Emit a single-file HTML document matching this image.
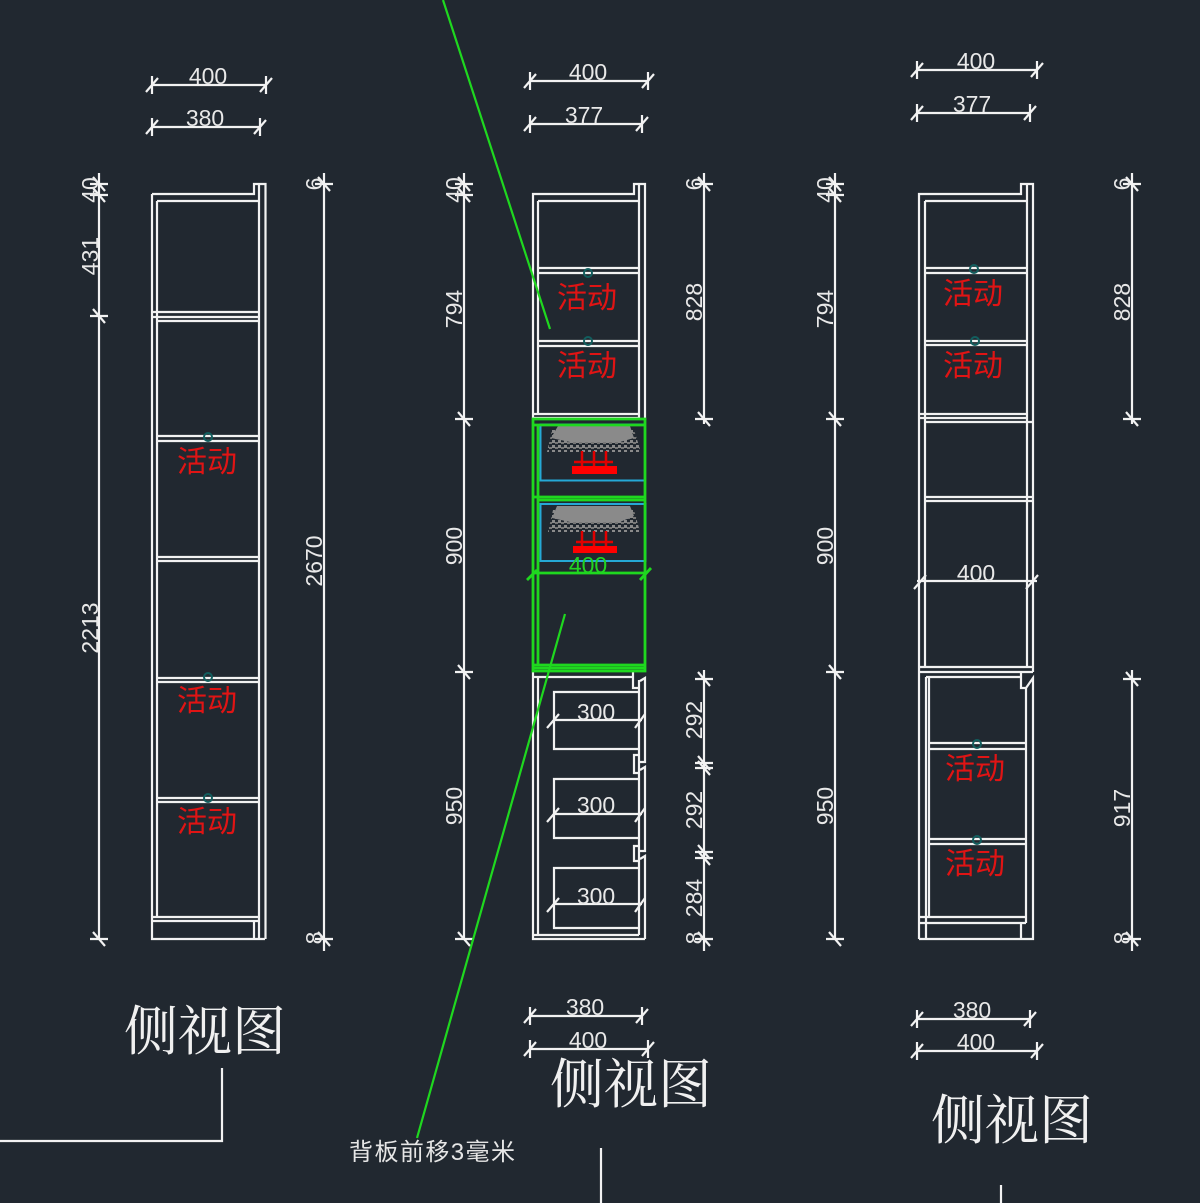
<!DOCTYPE html>
<html><head><meta charset="utf-8"><style>
html,body{margin:0;padding:0;background:#212830}
svg{display:block}
.l{fill:none;stroke:#f2f2f2;stroke-width:2.2}
.g{fill:none;stroke:#1fd81f;stroke-width:2.8}
.t{font-family:"Liberation Sans",sans-serif;font-size:23px;fill:#e8e8e8;text-anchor:middle;font-weight:normal}
.r{font-family:"Liberation Sans","Noto Sans CJK SC",sans-serif;font-size:30px;fill:#e01414;text-anchor:middle}
.b{font-family:"Liberation Serif","Noto Serif CJK SC",serif;font-size:54px;fill:#f0f0f0;text-anchor:middle}
.c{fill:none;stroke:#125e5e;stroke-width:2}
</style></head><body>
<svg width="1200" height="1203" viewBox="0 0 1200 1203" xmlns="http://www.w3.org/2000/svg">
<defs>
<path id="h" class="l" d="M0-9V9M-6 7L6-7"/>
<path id="v" class="l" d="M-9 0H9M-6-7L6 7"/>
<pattern id="sp" width="6" height="5" patternUnits="userSpaceOnUse"><rect width="6" height="5" fill="#212830"/><rect x="0" y="0" width="3" height="3" fill="#8a8a8a"/><rect x="3" y="2" width="3" height="2" fill="#777"/></pattern>
</defs>
<rect width="1200" height="1203" fill="#212830"/>

<!-- COLUMN 1 -->
<path class="l" d="M152 85H266M152 127H260"/>
<use href="#h" x="152" y="85"/><use href="#h" x="266" y="85"/><use href="#h" x="152" y="127"/><use href="#h" x="260" y="127"/>
<text class="t" x="208" y="84">400</text><text class="t" x="205" y="126">380</text>
<path class="l" d="M152 194H254V184H259V194M259 184H265.500V939M259 184V939M152 194V939H265M157 201V917M157 201H259"/>
<path class="l" d="M152 312H259M152 317H259M157 321H259M157 436H259M157 441H259M157 557H259M157 561H259M157 678H259M157 682H259M157 798H259M157 802H259M152 917H259M152 921H259M254 921V939"/>
<circle class="c" cx="208" cy="437" r="4"/><circle class="c" cx="208" cy="677" r="4"/><circle class="c" cx="208" cy="798" r="4"/>
<text class="r" x="207" y="472">活动</text><text class="r" x="207" y="711">活动</text><text class="r" x="207" y="832">活动</text>
<path class="l" d="M99 173V939M324 173V951"/>
<use href="#v" x="99" y="184"/><use href="#v" x="99" y="195"/><use href="#v" x="99" y="316"/><use href="#v" x="99" y="939"/>
<use href="#v" x="324" y="184"/><use href="#v" x="324" y="939"/>
<text class="t" transform="translate(98 190) rotate(-90)">40</text>
<text class="t" transform="translate(98 256) rotate(-90)">431</text>
<text class="t" transform="translate(98 628) rotate(-90)">2213</text>
<text class="t" transform="translate(322 561) rotate(-90)">2670</text>
<text class="t" transform="translate(322 184) rotate(-90)">6</text>
<text class="t" transform="translate(322 938) rotate(-90)">8</text>
<text class="b" x="205" y="1050">侧视图</text>
<path class="l" d="M0 1141H222V1068"/>

<!-- COLUMN 2 -->
<path class="l" d="M530 81H648M530 124H642"/>
<use href="#h" x="530" y="81"/><use href="#h" x="648" y="81"/><use href="#h" x="530" y="124"/><use href="#h" x="642" y="124"/>
<text class="t" x="588" y="80">400</text><text class="t" x="584" y="123">377</text>
<path class="l" d="M533 419V194H634V184H639V194M639 184H645V420M639 194V420M538 201V415M538 201H639"/>
<path class="l" d="M538 268H639M538 273H639M538 341H639M538 346H639M533 414H639M533 418H639"/>
<circle class="c" cx="588" cy="273" r="4"/><circle class="c" cx="588" cy="341" r="4"/>
<text class="r" x="587" y="308">活动</text><text class="r" x="587" y="376">活动</text>
<path class="l" d="M533 672V939H645M538 676V935M533 935H639M533 677H633M633 670V688H639M639 680V935M640 681L645 678V762H640M640 770L645 767V851H640M640 859L645 856V939M639 755H634V773H639M639 846H634V861H639"/>
<path class="l" d="M639 692H554V749H639M639 779H554V838H639M639 868H554V928H639"/>
<path class="l" d="M553 720H642M553 814H642M553 904H642M547 728L559 714M635 728L645 714M547 822L559 808M635 822L645 808M547 912L559 898M635 912L645 898"/>
<text class="t" x="596" y="720">300</text><text class="t" x="596" y="813">300</text><text class="t" x="596" y="904">300</text>
<path class="l" d="M464 173V939M704 173V424M704 670V951"/>
<use href="#v" x="464" y="184"/><use href="#v" x="464" y="195"/><use href="#v" x="464" y="419"/><use href="#v" x="464" y="672"/><use href="#v" x="464" y="939"/>
<use href="#v" x="704" y="184"/><use href="#v" x="704" y="419"/><use href="#v" x="704" y="679"/><use href="#v" x="704" y="763"/><use href="#v" x="704" y="768"/><use href="#v" x="704" y="852"/><use href="#v" x="704" y="858"/><use href="#v" x="704" y="939"/>
<text class="t" transform="translate(462 190) rotate(-90)">40</text>
<text class="t" transform="translate(462 309) rotate(-90)">794</text>
<text class="t" transform="translate(462 546) rotate(-90)">900</text>
<text class="t" transform="translate(462 806) rotate(-90)">950</text>
<text class="t" transform="translate(702 184) rotate(-90)">6</text>
<text class="t" transform="translate(702 302) rotate(-90)">828</text>
<text class="t" transform="translate(702 720) rotate(-90)">292</text>
<text class="t" transform="translate(702 810) rotate(-90)">292</text>
<text class="t" transform="translate(702 898) rotate(-90)">284</text>
<text class="t" transform="translate(702 938) rotate(-90)">8</text>
<path class="l" d="M530 1016H642M530 1049H648"/>
<use href="#h" x="530" y="1016"/><use href="#h" x="642" y="1016"/><use href="#h" x="530" y="1049"/><use href="#h" x="648" y="1049"/>
<text class="t" x="585" y="1015">380</text><text class="t" x="588" y="1048">400</text>
<text class="b" x="631" y="1103">侧视图</text>
<path class="l" d="M601 1148V1203"/>

<!-- green/blue shelf block -->
<path fill="url(#sp)" d="M552 430H634L641 452H547Z"/>
<path fill="#8a8a8a" d="M558 426H630L634 438L620 442H570L551 438Z"/>
<path fill="url(#sp)" d="M553 510H634L640 532H548Z"/>
<path fill="#8a8a8a" d="M557 506H630L634 516L620 522H570L552 518Z"/>
<rect x="572" y="466" width="45" height="8" fill="#ff0000"/><path d="M582 451V466M594 451V466M606 451V466M574 462H613" stroke="#e00000" stroke-width="2.500" fill="none"/>
<rect x="573" y="546" width="44" height="7" fill="#ff0000"/><path d="M582 531V546M594 531V546M606 531V546M576 542H613" stroke="#e00000" stroke-width="2.500" fill="none"/>
<rect x="540.500" y="424.500" width="104.500" height="56" fill="none" stroke="#25a9d6" stroke-width="2"/>
<rect x="540.500" y="504" width="105" height="57" fill="none" stroke="#25a9d6" stroke-width="2"/>
<path d="M541 425H645" stroke="#7a70d8" stroke-width="2"/>
<path class="g" d="M533 419H645V425H533ZM533 419V671H645V419M538 425V665M533 497H645M538 500H645M533 573H645M533 665H645M534 668H645"/>
<path class="g" d="M527 580L537 570M640 580L651 568"/>
<text class="t" x="588" y="573" style="fill:#22d422">400</text>
<path class="g" style="stroke-width:2.200" d="M443 0L550 329M565 614L417 1138"/>

<!-- COLUMN 3 -->
<path class="l" d="M917 70H1037M917 113H1030"/>
<use href="#h" x="917" y="70"/><use href="#h" x="1037" y="70"/><use href="#h" x="917" y="113"/><use href="#h" x="1030" y="113"/>
<text class="t" x="976" y="69">400</text><text class="t" x="972" y="112">377</text>
<path class="l" d="M919 939V194H1021V184H1027V194M1027 184H1033V672M1027 194V667M925 201V667M925 201H1027"/>
<path class="l" d="M925 268H1027M925 273H1027M925 341H1027M925 345H1027M919 414H1027M919 418H1027M925 422H1033M925 497H1033M925 501H1033M919 667H1033M919 672H1033"/>
<path class="l" d="M917 581H1037M914 589L926 575M1026 589L1038 575"/>
<text class="t" x="976" y="581">400</text>
<path class="l" d="M926 677V939M929 677V917M926 677H1021M1021 672V688H1026L1033 678V939H1026M1026 688V923M919 939H1026M1021 923V939"/>
<path class="l" d="M929 743H1026M929 749H1026M929 839H1026M929 844H1026M919 917H1026M919 923H1026"/>
<circle class="c" cx="974" cy="269" r="4"/><circle class="c" cx="975" cy="341" r="4"/><circle class="c" cx="977" cy="744" r="4"/><circle class="c" cx="977" cy="840" r="4"/>
<text class="r" x="973" y="304">活动</text><text class="r" x="973" y="376">活动</text><text class="r" x="975" y="779">活动</text><text class="r" x="975" y="874">活动</text>
<path class="l" d="M835 173V939M1132 173V424M1132 670V951"/>
<use href="#v" x="835" y="184"/><use href="#v" x="835" y="195"/><use href="#v" x="835" y="419"/><use href="#v" x="835" y="672"/><use href="#v" x="835" y="939"/>
<use href="#v" x="1132" y="184"/><use href="#v" x="1132" y="419"/><use href="#v" x="1132" y="679"/><use href="#v" x="1132" y="939"/>
<text class="t" transform="translate(833 190) rotate(-90)">40</text>
<text class="t" transform="translate(833 309) rotate(-90)">794</text>
<text class="t" transform="translate(833 546) rotate(-90)">900</text>
<text class="t" transform="translate(833 806) rotate(-90)">950</text>
<text class="t" transform="translate(1130 184) rotate(-90)">6</text>
<text class="t" transform="translate(1130 302) rotate(-90)">828</text>
<text class="t" transform="translate(1130 808) rotate(-90)">917</text>
<text class="t" transform="translate(1130 938) rotate(-90)">8</text>
<path class="l" d="M917 1019H1030M917 1051H1037"/>
<use href="#h" x="917" y="1019"/><use href="#h" x="1030" y="1019"/><use href="#h" x="917" y="1051"/><use href="#h" x="1037" y="1051"/>
<text class="t" x="972" y="1018">380</text><text class="t" x="976" y="1050">400</text>
<text class="b" x="1012" y="1139">侧视图</text>
<path class="l" d="M1001 1185V1203"/>

<text x="432" y="1160" style="font-family:'Liberation Sans','Noto Sans CJK SC',sans-serif;font-size:24px;fill:#e6e6e6;text-anchor:middle" textLength="166">背板前移3毫米</text>
</svg>
</body></html>
